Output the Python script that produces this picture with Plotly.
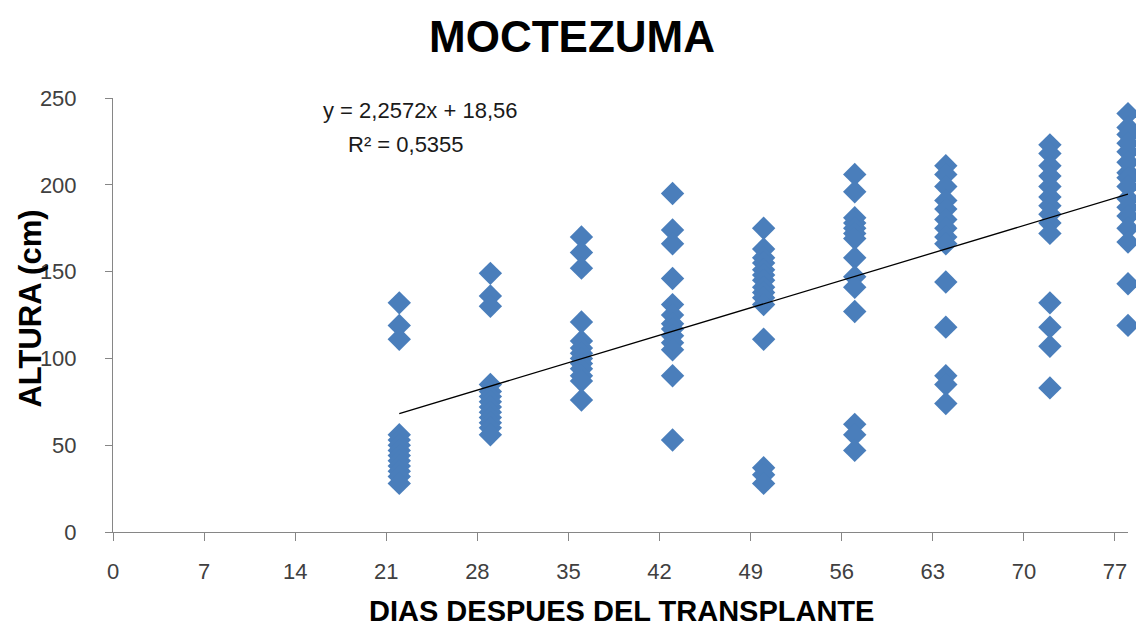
import plotly.graph_objects as go

# ---- data ----
days = [22, 29, 36, 43, 50, 57, 64, 72, 78]
heights = {
    22: [132, 119, 111, 56, 53, 50, 47, 44, 41, 38, 35, 32, 28],
    29: [149, 136, 130, 85, 81, 78, 75, 72, 69, 66, 63, 60, 56],
    36: [170, 161, 152, 121, 110, 106, 103, 100, 97, 94, 90, 87, 76],
    43: [195, 174, 166, 146, 131, 125, 120, 117, 113, 109, 105, 90, 53],
    50: [175, 163, 158, 155, 151, 148, 145, 141, 138, 135, 131, 111, 37, 33, 28],
    57: [206, 196, 181, 178, 175, 172, 169, 158, 147, 141, 127, 62, 56, 47],
    64: [211, 206, 199, 191, 186, 180, 175, 170, 166, 144, 118, 90, 85, 74],
    72: [223, 218, 211, 205, 199, 193, 188, 183, 178, 172, 132, 118, 107, 83],
    78: [241, 233, 229, 224, 219, 213, 207, 204, 199, 192, 187, 182, 175, 167, 143, 119],
}
slope = 2.2572
intercept = 18.56
r2 = 0.5355
x_ticks = [0, 7, 14, 21, 28, 35, 42, 49, 56, 63, 70, 77]
y_ticks = [0, 50, 100, 150, 200, 250]

xs, ys = [], []
for d in days:
    for h in heights[d]:
        xs.append(d)
        ys.append(h)

trend_x = [min(days), max(days)]
trend_y = [slope * v + intercept for v in trend_x]

fig = go.Figure()
fig.add_trace(go.Scatter(
    x=xs, y=ys, mode="markers", cliponaxis=False,
    marker=dict(symbol="diamond", size=18, color="#4a7ebb", line=dict(width=0)),
    showlegend=False,
))
fig.add_trace(go.Scatter(
    x=trend_x, y=trend_y, mode="lines", cliponaxis=False,
    line=dict(color="black", width=1.3), showlegend=False,
))

eq_font = dict(family="Liberation Sans", size=22, color="#1a1a1a")
fig.add_annotation(xref="x", yref="y", x=23.6, y=243,
                   text="y = 2,2572x + 18,56", showarrow=False, font=eq_font)
fig.add_annotation(xref="x", yref="y", x=22.5, y=223,
                   text="R² = 0,5355", showarrow=False, font=eq_font)

# titles
fig.add_annotation(xref="paper", yref="paper", x=(572 - 113) / 1015, y=(532 - 35) / 435,
                   text="<b>MOCTEZUMA</b>", showarrow=False, xanchor="center", yanchor="middle",
                   font=dict(family="Liberation Sans", size=44, color="black"))
fig.add_annotation(xref="paper", yref="paper", x=(621 - 113) / 1015, y=(532 - 611) / 435,
                   text="<b>DIAS DESPUES DEL TRANSPLANTE</b>", showarrow=False,
                   xanchor="center", yanchor="middle",
                   font=dict(family="Liberation Sans", size=29, color="black"))
fig.add_annotation(xref="paper", yref="paper", x=(31 - 113) / 1015, y=(532 - 308) / 435,
                   text="<b>ALTURA (cm)</b>", showarrow=False, textangle=-90,
                   xanchor="center", yanchor="middle",
                   font=dict(family="Liberation Sans", size=31, color="black"))

fig.update_layout(
    width=1136, height=630,
    paper_bgcolor="white", plot_bgcolor="white",
    margin=dict(l=113, r=8, t=98, b=98),
    xaxis=dict(
        range=[0, 78], tickvals=x_ticks, ticks="outside", ticklen=8, tickcolor="#868686",
        showline=True, linecolor="#868686", linewidth=1, showgrid=False, zeroline=False,
        automargin=False, ticklabelstandoff=12,
        tickfont=dict(family="Liberation Sans", size=22, color="#404040"),
    ),
    yaxis=dict(
        range=[0, 250], tickvals=y_ticks, ticks="outside", ticklen=7, tickcolor="#868686",
        showline=True, linecolor="#868686", linewidth=1, showgrid=False, zeroline=False,
        automargin=False, ticklabelstandoff=24,
        tickfont=dict(family="Liberation Sans", size=22, color="#404040"),
    ),
)

fig.write_html("out.html", config={"displayModeBar": False},
               post_script="document.body.style.margin='0';document.body.style.overflow='hidden';")
